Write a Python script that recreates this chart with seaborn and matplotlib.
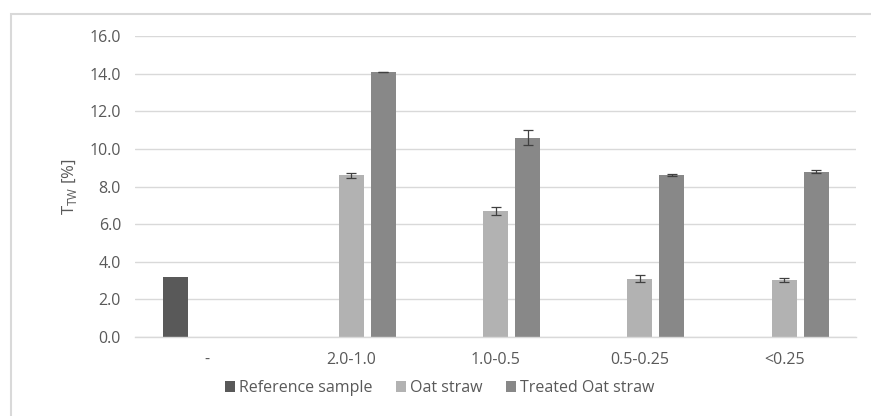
import numpy as np
import pandas as pd
import matplotlib
matplotlib.use("Agg")
import matplotlib.pyplot as plt
from matplotlib.patches import Rectangle
import seaborn as sns

# data
fractions = ["-", "2.0-1.0", "1.0-0.5", "0.5-0.25", "<0.25"]
series = ["Reference sample", "Oat straw", "Treated Oat straw"]

ref_fraction = ["-"]
ref_values = [3.2]
ref_err = [0.0]

oat_fraction = ["2.0-1.0", "1.0-0.5", "0.5-0.25", "<0.25"]
oat_values = [8.6, 6.7, 3.1, 3.05]
oat_err = [0.13, 0.2, 0.2, 0.1]

treated_fraction = ["2.0-1.0", "1.0-0.5", "0.5-0.25", "<0.25"]
treated_values = [14.1, 10.6, 8.6, 8.8]
treated_err = [0.02, 0.4, 0.06, 0.06]

colors = ["#595959", "#b2b2b2", "#888888"]

rows = []
for name, cats, vals, errs in [
    (series[0], ref_fraction, ref_values, ref_err),
    (series[1], oat_fraction, oat_values, oat_err),
    (series[2], treated_fraction, treated_values, treated_err),
]:
    for c, v, e in zip(cats, vals, errs):
        rows.append({"fraction": c, "series": name, "value": v, "err": e})
df = pd.DataFrame(rows)

sns.set_style("white")
plt.rcParams["font.family"] = ["Open Sans", "DejaVu Sans"]

fig = plt.figure(figsize=(8.71, 4.16), dpi=100)
ax = fig.add_axes([0.155, 0.19, 0.828, 0.723])

sns.barplot(data=df, x="fraction", y="value", hue="series",
            order=fractions, hue_order=series, palette=colors,
            width=0.667, gap=0.22, errorbar=None, ax=ax,
            saturation=1, linewidth=0)

# error bars on top of each bar
for container, name in zip(ax.containers, series):
    sub = df[df["series"] == name].copy()
    sub["pos"] = sub["fraction"].map(fractions.index)
    sub = sub.sort_values("pos")
    for patch, (_, r) in zip(container.patches, sub.iterrows()):
        if r["err"] > 0:
            ax.errorbar(patch.get_x() + patch.get_width() / 2, r["value"],
                        yerr=r["err"], fmt="none", ecolor="#404040",
                        elinewidth=0.9, capsize=3.5, capthick=0.9)

ax.set_ylim(0, 16)
ax.set_yticks(np.arange(0, 16.1, 2))
ax.set_yticklabels([f"{t:.1f}" for t in np.arange(0, 16.1, 2)])
ax.set_xlim(-0.5, len(fractions) - 0.5)
ax.yaxis.grid(True, color="#d9d9d9", linewidth=1)
ax.set_axisbelow(True)
for s in ["top", "right", "left"]:
    ax.spines[s].set_visible(False)
ax.spines["bottom"].set_color("#d9d9d9")
ax.spines["bottom"].set_linewidth(1)
ax.tick_params(axis="both", length=0, labelsize=11.5, colors="#595959", pad=10)
ax.tick_params(axis="x", pad=11)
ax.set_xlabel("")
ax.set_ylabel("T$_\\mathregular{TW}$ [%]", fontsize=12, color="#595959", labelpad=8)

handles, labels = ax.get_legend_handles_labels()
ax.get_legend().remove()
fig.legend(handles, labels, loc="center", bbox_to_anchor=(0.505, 0.067),
           ncol=3, frameon=False, fontsize=11.5, labelcolor="#595959",
           handlelength=0.6, handleheight=0.6, handletextpad=0.25,
           columnspacing=1.5)

# light chart border (cropped at right and bottom like the reference)
fig.patches.append(Rectangle((11 / 871, -0.05), 1.0, 1 - 14 / 416 + 0.05,
                             transform=fig.transFigure, fill=False,
                             edgecolor="#d9d9d9", linewidth=1.5))

fig.savefig("out.png", dpi=100)
